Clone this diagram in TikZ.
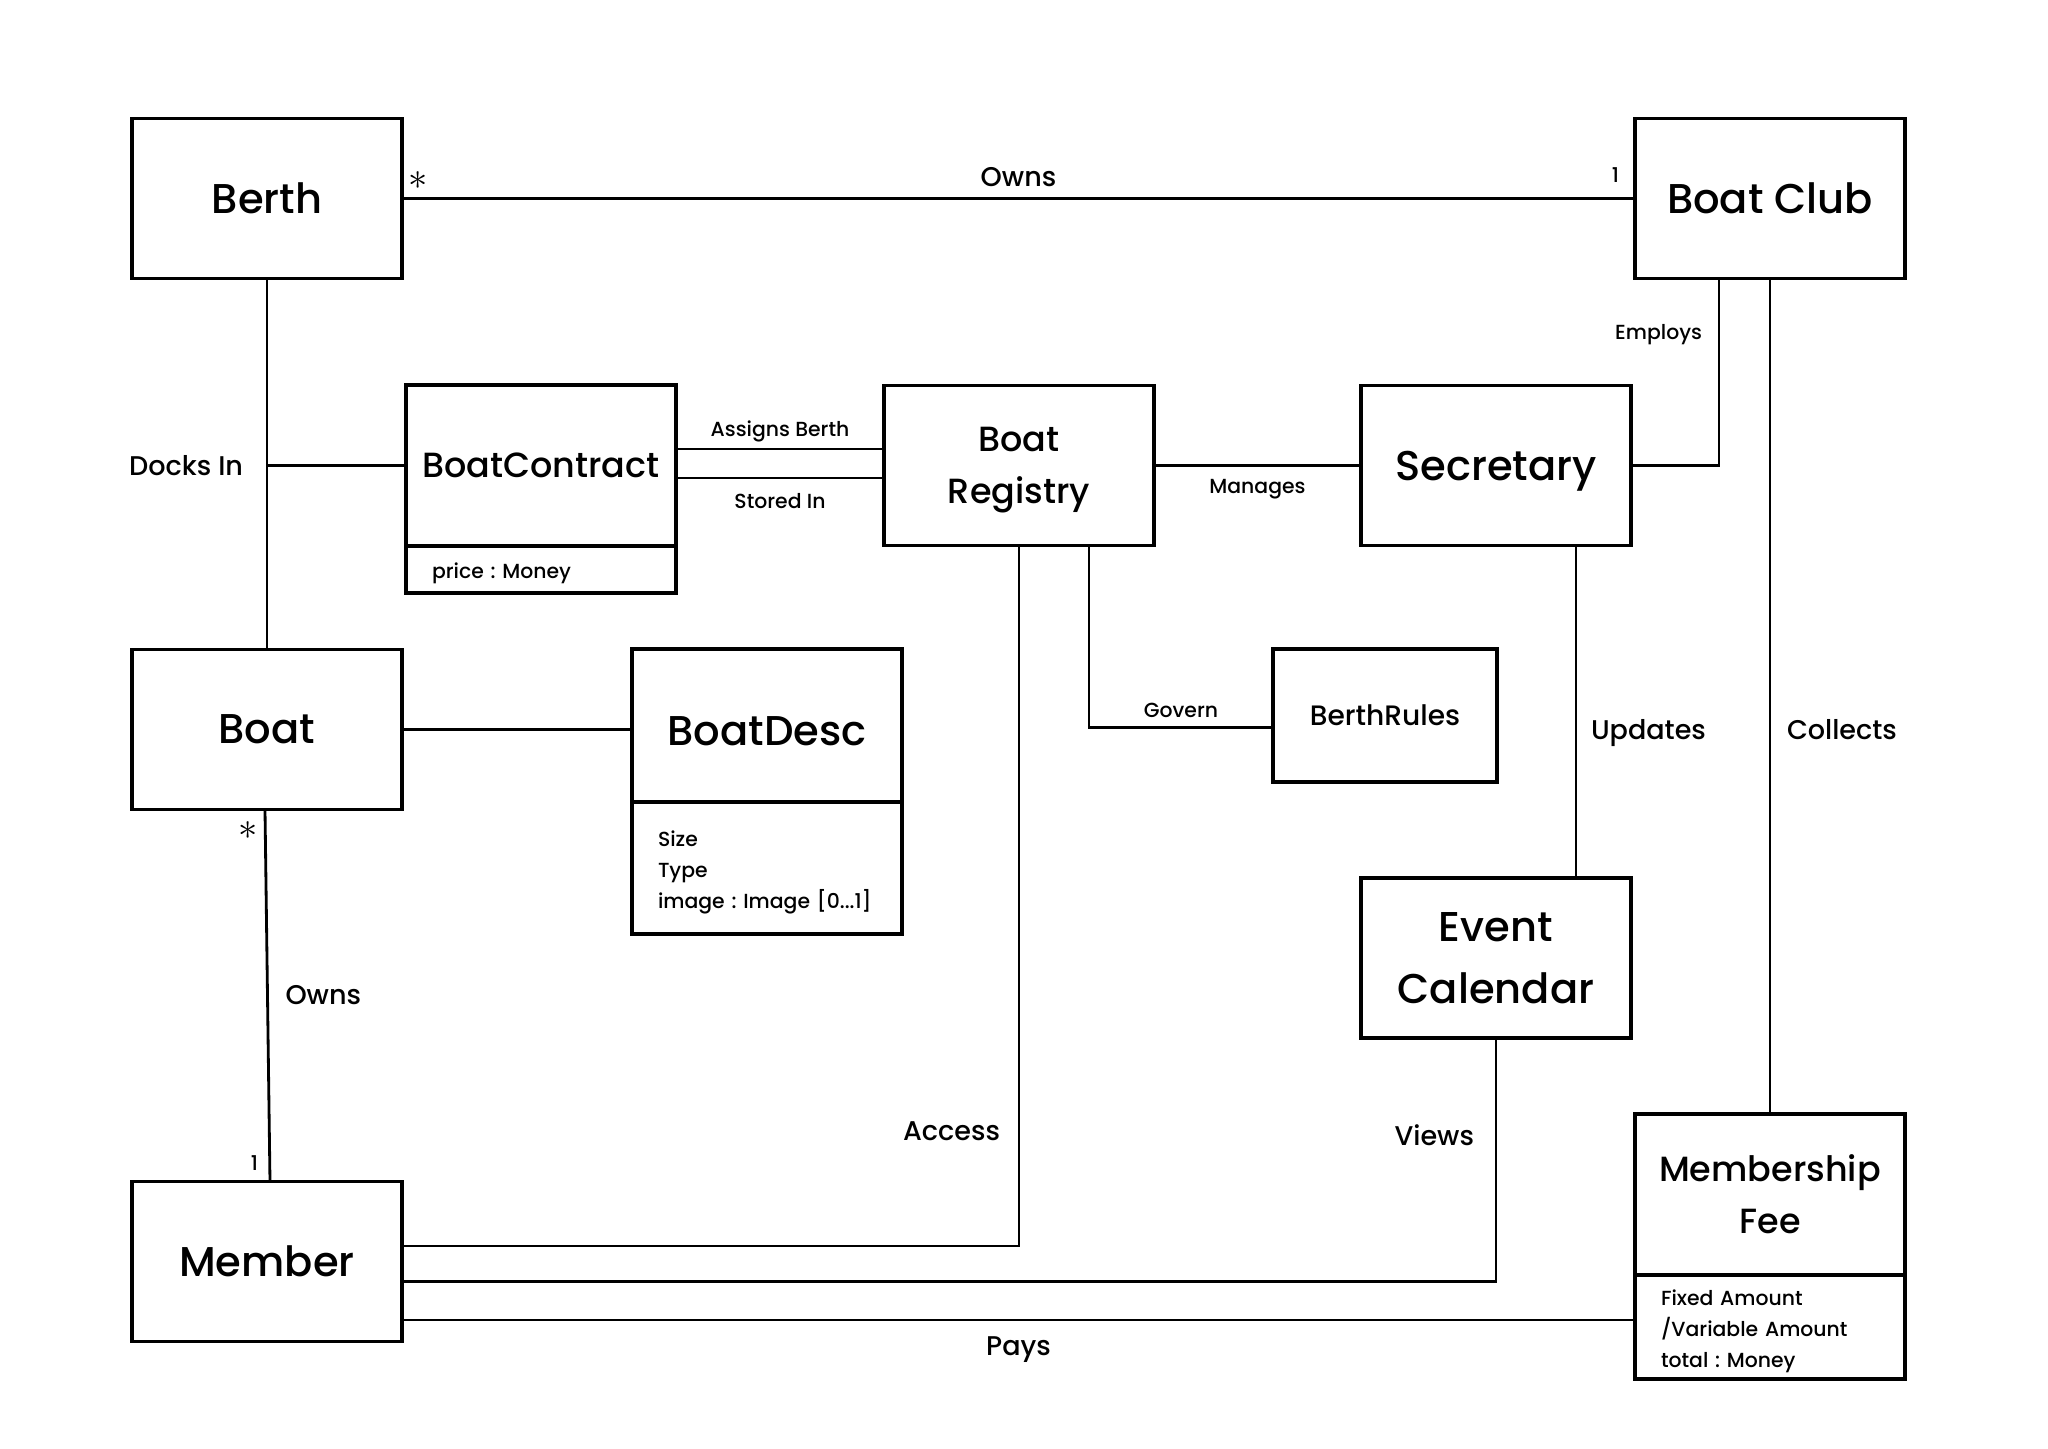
\documentclass[tikz,border=0pt]{standalone}
\usepackage{fontspec}
\setmainfont{Poppins}[UprightFont=* Medium]
\usetikzlibrary{positioning}
\frenchspacing
\newcommand{\clsbig}{\fontsize{11.85}{17.4}\selectfont}
\newcommand{\clsmid}{\fontsize{9.95}{14.8}\selectfont}
\newcommand{\clssmall}{\fontsize{8.0}{10}\selectfont}
\newcommand{\lblbig}{\fontsize{7.7}{9}\selectfont}
\newcommand{\lblsmall}{\fontsize{5.8}{7}\selectfont}
\newcommand{\attrtxt}{\fontsize{5.8}{8.8}\selectfont}

\begin{document}
\begin{tikzpicture}[inner sep=0pt,outer sep=0pt,line width=0.8pt,
classbox/.style={draw,rectangle,line width=1pt,minimum width=2.7cm,minimum height=1.6cm,align=center,text depth=0pt,font=\clsbig},
attrbox/.style={draw,rectangle,line width=1pt,inner xsep=0.26cm,text width=2.18cm,align=left,text height=0.24cm,font=\attrtxt},
rel/.style={font=\lblbig},
relsmall/.style={font=\lblsmall},
mult/.style={font=\fontsize{11}{12}\selectfont}]

\useasboundingbox (0,0) rectangle (20.48,-14.48);

% classes
\draw (2.67,-1.985) node[classbox] (Berth) {Berth};
\draw (17.70,-1.985) node[classbox] (BoatClub) {Boat Club};
\draw (5.41,-4.655) node[classbox,font=\clsmid,minimum height=1.61cm] (Contract) {BoatContract};
\node[attrbox,below=0pt of Contract,minimum height=0.47cm] (ContractAttr) {price : Money};
\draw (10.19,-4.655) node[classbox,font=\clsmid] (Registry) {Boat\\Registry};
\draw (14.96,-4.655) node[classbox] (Secretary) {Secretary};
\draw (2.67,-7.295) node[classbox] (Boat) {Boat};
\draw (7.67,-7.255) node[classbox,minimum height=1.53cm,text height=0.4cm] (BoatDesc) {BoatDesc};
\node[attrbox,below=0pt of BoatDesc,minimum height=1.32cm] (DescAttr) {Size\\Type\\image : Image [0...1]};
\draw (13.85,-7.155) node[classbox,font=\clssmall,minimum width=2.24cm,minimum height=1.33cm] (BerthRules) {BerthRules};
\draw (14.96,-9.58) node[classbox] (EventCal) {Event\\Calendar};
\draw (2.67,-12.615) node[classbox] (Member) {Member};
\draw (17.70,-11.945) node[classbox,font=\clsmid,minimum height=1.61cm] (MemFee) {Membership\\Fee};
\node[attrbox,below=0pt of MemFee,minimum height=1.04cm] (FeeAttr) {Fixed Amount\\/Variable Amount\\total : Money};

% associations
\draw (Berth.east) node[mult,xshift=0.16cm,yshift=0.18cm] {$\ast$}
  -- node[rel,above=0.12cm,pos=.5] {Owns} (BoatClub.west) node[relsmall,above left=0.16cm and 0.16cm] {1};
\draw (Berth.south) -- (Boat.north);
\draw (Berth.south |- Contract.west) node[rel,left=0.24cm] {Docks In} -- (Contract.west);
\draw ([yshift=0.165cm]Contract.east) -- node[relsmall,above=0.07cm] {Assigns Berth} ([yshift=0.165cm]Registry.west);
\draw ([yshift=-0.125cm]Contract.east) -- node[relsmall,below=0.15cm] {Stored In} ([yshift=-0.125cm]Registry.west);
\draw (Registry.east) -- node[relsmall,below=0.14cm] {Manages} (Secretary.west);
\draw (Secretary.east) -| node[relsmall,left=0.17cm,pos=.85] {Employs} ([xshift=-0.51cm]BoatClub.south);
\draw (BoatClub.south) -- node[rel,right=0.17cm,pos=.54] {Collects} (MemFee.north);
\draw ([xshift=0.8cm]Secretary.south) coordinate (upd) -- node[rel,right=0.15cm,pos=.565] {Updates} (upd |- EventCal.north);
\draw ([xshift=0.7cm]Registry.south) |- node[relsmall,above=0.1cm,pos=.75] {Govern} ([yshift=-0.12cm]BerthRules.west);
\draw (Boat.east) -- (Boat.east -| BoatDesc.west);
\draw ([xshift=-0.02cm]Boat.south) node[mult,xshift=-0.17cm,yshift=-0.21cm] {$\ast$}
  -- node[rel,right=0.18cm,pos=.5] {Owns} ([xshift=0.03cm]Member.north) node[relsmall,above left=0.11cm and 0.12cm] {1};
\draw (Registry.south) |- node[rel,left=0.19cm,pos=.418] {Access} ([yshift=0.155cm]Member.east);
\draw (EventCal.south) |- node[rel,left=0.22cm,pos=.2] {Views} ([yshift=-0.2cm]Member.east);
\draw ([yshift=-0.585cm]Member.east) coordinate (pay) -- node[rel,below=0.17cm] {Pays} (pay -| FeeAttr.west);
\end{tikzpicture}
\end{document}
